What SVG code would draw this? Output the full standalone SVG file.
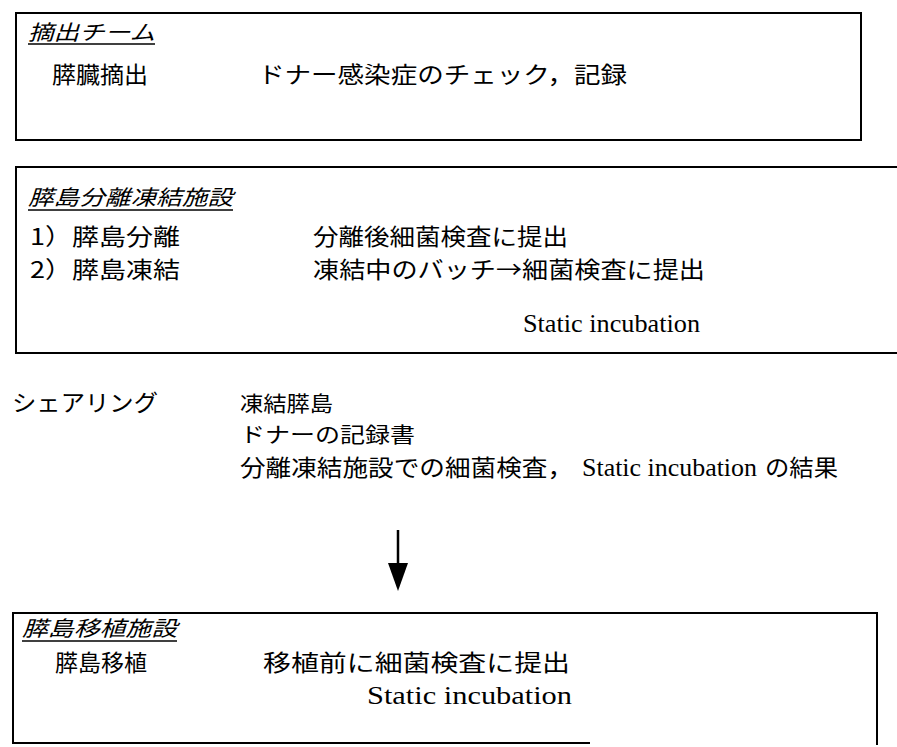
<svg xmlns="http://www.w3.org/2000/svg" width="897" height="747" viewBox="0 0 897 747">
<style>
.jp{font-family:"Noto Sans CJK JP","Noto Sans CJK SC",sans-serif;font-size:23px;fill:#000}
.sm{font-size:21px}
.ttl{font-family:"Noto Sans CJK JP","Noto Sans CJK SC",sans-serif;font-size:21px;font-style:italic;fill:#000}
.en{font-family:"Liberation Serif","Times New Roman",serif;font-size:25px;fill:#000}
.box{fill:none;stroke:#000;stroke-width:2}
.ul{stroke:#000;stroke-width:1.5}
</style>
<rect width="897" height="747" fill="#fff"/>
<g id="extraction-team">
<rect class="box" x="16" y="13" width="845" height="127"/>
<text class="ttl" x="28" y="40" textLength="127" lengthAdjust="spacingAndGlyphs">摘出チーム</text>
<line class="ul" x1="28" y1="44" x2="155" y2="44"/>
<text class="jp" x="52" y="83" textLength="96" lengthAdjust="spacingAndGlyphs">膵臓摘出</text>
<text class="jp" x="258" y="83" textLength="369" lengthAdjust="spacingAndGlyphs">ドナー感染症のチェック，記録</text>
</g>
<g id="isolation-facility">
<path class="box" d="M897 167 H16 V353 H897"/>
<text class="ttl" x="28" y="205" textLength="205" lengthAdjust="spacingAndGlyphs">膵島分離凍結施設</text>
<line class="ul" x1="28" y1="210" x2="233" y2="210"/>
<text class="jp" x="30" y="245" textLength="150" lengthAdjust="spacingAndGlyphs">1）膵島分離</text>
<text class="jp" x="313" y="245" textLength="255" lengthAdjust="spacingAndGlyphs">分離後細菌検査に提出</text>
<text class="jp" x="30" y="278" textLength="150" lengthAdjust="spacingAndGlyphs">2）膵島凍結</text>
<text class="jp" x="313" y="278" textLength="392" lengthAdjust="spacingAndGlyphs">凍結中のバッチ→細菌検査に提出</text>
<text class="en" x="523" y="332" textLength="177" lengthAdjust="spacingAndGlyphs">Static incubation</text>
</g>
<g id="sharing">
<text class="jp" x="12" y="411" textLength="146" lengthAdjust="spacingAndGlyphs">シェアリング</text>
<text class="jp sm" x="240" y="411" textLength="93" lengthAdjust="spacingAndGlyphs">凍結膵島</text>
<text class="jp sm" x="240" y="442" textLength="175" lengthAdjust="spacingAndGlyphs">ドナーの記録書</text>
<text class="jp" y="476"><tspan x="240" textLength="333" lengthAdjust="spacingAndGlyphs">分離凍結施設での細菌検査，</tspan><tspan class="en" x="582" textLength="175" lengthAdjust="spacingAndGlyphs">Static incubation</tspan><tspan x="765" textLength="73" lengthAdjust="spacingAndGlyphs">の結果</tspan></text>
</g>
<g id="connectors">
<line x1="398" y1="530" x2="398" y2="566" stroke="#000" stroke-width="2.5"/>
<polygon points="388,563 408,563 398,591" fill="#000"/>
</g>
<g id="transplant-facility">
<path class="box" d="M590 743 H13 V613 H877 V745"/>
<text class="ttl" x="22" y="636" textLength="155" lengthAdjust="spacingAndGlyphs">膵島移植施設</text>
<line class="ul" x1="22" y1="641" x2="177" y2="641"/>
<text class="jp" x="55" y="671" textLength="92" lengthAdjust="spacingAndGlyphs">膵島移植</text>
<text class="jp" x="263" y="671" textLength="307" lengthAdjust="spacingAndGlyphs">移植前に細菌検査に提出</text>
<text class="en" x="367" y="704" font-size="27" textLength="205" lengthAdjust="spacingAndGlyphs">Static incubation</text>
</g>
</svg>
